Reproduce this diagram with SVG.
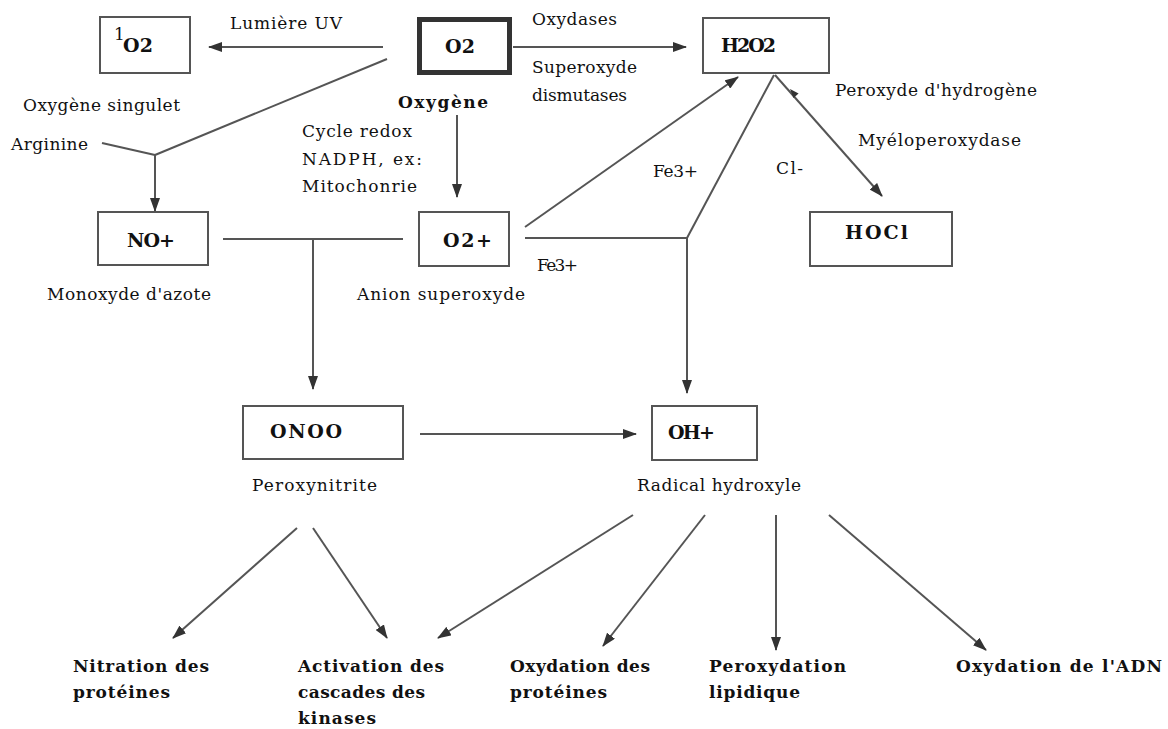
<svg xmlns="http://www.w3.org/2000/svg" width="1168" height="729" viewBox="0 0 1168 729">
<style>
.box{fill:#fff;stroke:#555;stroke-width:2}
.thick{fill:#fff;stroke:#333;stroke-width:5}
.t{font-family:"DejaVu Serif","Liberation Serif",serif;font-size:17px;fill:#111}
.b{font-family:"DejaVu Serif","Liberation Serif",serif;font-size:17px;font-weight:bold;fill:#111}
.n{font-family:"DejaVu Serif","Liberation Serif",serif;font-size:19px;font-weight:bold;fill:#111}
.c{stroke:#555;stroke-width:2;fill:none}
</style>
<defs>
<marker id="ah" markerWidth="14" markerHeight="10" refX="13" refY="5" orient="auto" markerUnits="userSpaceOnUse"><path d="M0,0 L14,5 L0,10 z" fill="#333"/></marker>
</defs>
<rect width="1168" height="729" fill="#fff"/>
<g id="connectors">
<line class="c" x1="383" y1="47" x2="209" y2="47" marker-end="url(#ah)"/>
<polyline class="c" points="387,59 155,155"/>
<polyline class="c" points="102,143 155,155"/>
<line class="c" x1="155" y1="155" x2="155" y2="211" marker-end="url(#ah)"/>
<line class="c" x1="513" y1="47" x2="686" y2="47" marker-end="url(#ah)"/>
<line class="c" x1="457" y1="115" x2="457" y2="197" marker-end="url(#ah)"/>
<line class="c" x1="525" y1="227" x2="738" y2="77" marker-end="url(#ah)"/>
<polyline class="c" points="525,238 687,238"/>
<polyline class="c" points="774,75 687,238"/>
<line class="c" x1="687" y1="238" x2="687" y2="393" marker-end="url(#ah)"/>
<line class="c" x1="775" y1="75" x2="882" y2="196" marker-end="url(#ah)"/>
<path d="M790,89 L798.6,93.4 L793.4,98 Z" fill="#333"/>
<polyline class="c" points="223,239 403,239"/>
<line class="c" x1="313" y1="239" x2="313" y2="389" marker-end="url(#ah)"/>
<line class="c" x1="420" y1="434" x2="636" y2="434" marker-end="url(#ah)"/>
<line class="c" x1="297" y1="528" x2="173" y2="638" marker-end="url(#ah)"/>
<line class="c" x1="313" y1="528" x2="387" y2="638" marker-end="url(#ah)"/>
<line class="c" x1="633" y1="515" x2="438" y2="638" marker-end="url(#ah)"/>
<line class="c" x1="705" y1="515" x2="603" y2="646" marker-end="url(#ah)"/>
<line class="c" x1="776" y1="515" x2="776" y2="650" marker-end="url(#ah)"/>
<line class="c" x1="829" y1="515" x2="986" y2="650" marker-end="url(#ah)"/>
</g>
<g id="singlet">
<rect class="box" x="100" y="17" width="90" height="56"/>
<text class="t" x="114" y="40" font-size="10">1</text>
<text class="n" x="123" y="52" textLength="30">O2</text>
<text class="t" x="23" y="111" textLength="157">Oxygène singulet</text>
</g>
<g id="oxygen">
<rect class="thick" x="419.5" y="19.5" width="90" height="53"/>
<text class="n" x="445" y="53" textLength="30">O2</text>
<text class="b" x="398" y="108" textLength="90">Oxygène</text>
</g>
<g id="h2o2">
<rect class="box" x="703" y="18" width="126" height="55"/>
<text class="n" x="721" y="52" textLength="55">H2O2</text>
<text class="t" x="835" y="96" textLength="202">Peroxyde d'hydrogène</text>
</g>
<g id="no">
<rect class="box" x="98" y="212" width="110" height="53"/>
<text class="n" x="127" y="247" textLength="48">NO+</text>
<text class="t" x="47" y="300" textLength="164">Monoxyde d'azote</text>
</g>
<g id="o2plus">
<rect class="box" x="419" y="212" width="90" height="54"/>
<text class="n" x="443" y="247" textLength="49">O2+</text>
<text class="t" x="357" y="300" textLength="168">Anion superoxyde</text>
</g>
<g id="hocl">
<rect class="box" x="810" y="212" width="142" height="54"/>
<text class="n" x="845" y="239" textLength="63">HOCl</text>
</g>
<g id="onoo">
<rect class="box" x="243" y="406" width="160" height="53"/>
<text class="n" x="270" y="438" textLength="72">ONOO</text>
<text class="t" x="252" y="491" textLength="125">Peroxynitrite</text>
</g>
<g id="oh">
<rect class="box" x="652" y="406" width="105" height="54"/>
<text class="n" x="668" y="439" textLength="47">OH+</text>
<text class="t" x="637" y="491" textLength="164">Radical hydroxyle</text>
</g>
<g id="labels">
<text class="t" x="230" y="29" textLength="112">Lumière UV</text>
<text class="t" x="11" y="150" textLength="77">Arginine</text>
<text class="t" x="302" y="137" textLength="110">Cycle redox</text>
<text class="t" x="302" y="165" textLength="120">NADPH, ex:</text>
<text class="t" x="302" y="192" textLength="115">Mitochonrie</text>
<text class="t" x="532" y="25" textLength="85">Oxydases</text>
<text class="t" x="532" y="73" textLength="105">Superoxyde</text>
<text class="t" x="532" y="101" textLength="95">dismutases</text>
<text class="t" x="858" y="146" textLength="163">Myéloperoxydase</text>
<text class="t" x="776" y="174" textLength="27">Cl-</text>
<text class="t" x="653" y="177" textLength="45">Fe3+</text>
<text class="t" x="537" y="271" textLength="41">Fe3+</text>
</g>
<g id="effects">
<text class="b" x="73" y="672" textLength="136">Nitration des</text>
<text class="b" x="73" y="698" textLength="97">protéines</text>
<text class="b" x="298" y="672" textLength="146">Activation des</text>
<text class="b" x="298" y="698" textLength="127">cascades des</text>
<text class="b" x="298" y="724" textLength="78">kinases</text>
<text class="b" x="510" y="672" textLength="140">Oxydation des</text>
<text class="b" x="510" y="698" textLength="97">protéines</text>
<text class="b" x="709" y="672" textLength="137">Peroxydation</text>
<text class="b" x="709" y="698" textLength="91">lipidique</text>
<text class="b" x="956" y="672" textLength="206">Oxydation de l'ADN</text>
</g>
</svg>
